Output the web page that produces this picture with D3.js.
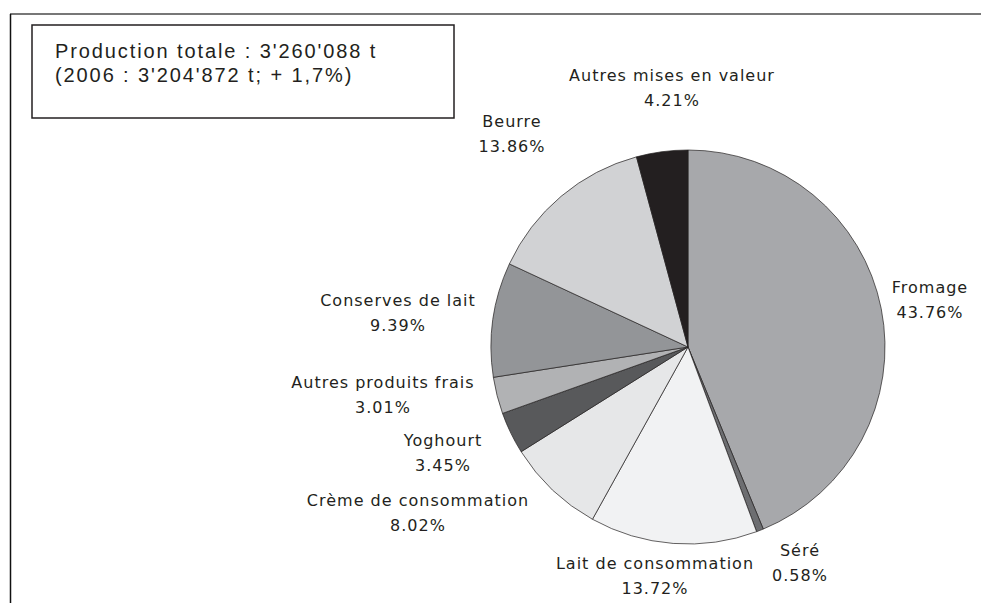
<!DOCTYPE html>
<html>

<head>
    <meta charset="UTF-8">
    <style>
        body {
            margin: 0;
            background-color: #ffffff;
        }

        .label {
            font-family: 'DejaVu Sans', sans-serif;
            font-size: 16px;
            letter-spacing: 1px;
            fill: #231f20;
            text-anchor: middle;
        }

        .title {
            font-family: 'Liberation Sans', 'Arial', sans-serif;
            font-size: 20px;
            letter-spacing: 1.9px;
            fill: #231f20;
        }
    </style>
</head>

<body>
    <svg id="chart" width="981" height="603"></svg>
    <script src="https://d3js.org/d3.v7.min.js"></script>
    <script>
        // data (clockwise from 12 o'clock)
        var categories = ["Fromage", "Séré", "Lait de consommation", "Crème de consommation", "Yoghourt",
            "Autres produits frais", "Conserves de lait", "Beurre", "Autres mises en valeur"];
        var shares = [43.76, 0.58, 13.72, 8.02, 3.45, 3.01, 9.39, 13.86, 4.21];
        var shareLabels = ["43.76%", "0.58%", "13.72%", "8.02%", "3.45%", "3.01%", "9.39%", "13.86%", "4.21%"];
        var titleLines = ["Production totale : 3'260'088 t", "(2006 : 3'204'872 t; + 1,7%)"];

        var colors = ["#a7a8ab", "#6d6e71", "#f1f2f3", "#e6e7e8", "#58595b", "#b1b2b4", "#939598", "#d1d2d4", "#231f20"];
        // label centres (x, y of first line)
        var labelPos = [[930, 287], [800, 550], [655, 563], [418, 500], [443, 440],
            [383, 382], [398, 300], [512, 121], [672, 75]];

        var width = 981;
        var height = 603;
        var cx = 688, cy = 347, radius = 197;

        var svg = d3.select("#chart").attr("width", width).attr("height", height);

        // frame (only top and left edges are visible)
        svg.append("line")
            .attr("x1", 10).attr("y1", 14).attr("x2", width).attr("y2", 14)
            .attr("stroke", "#777").attr("stroke-width", 2);
        svg.append("line")
            .attr("x1", 10.5).attr("y1", 14).attr("x2", 10.5).attr("y2", height)
            .attr("stroke", "#111").attr("stroke-width", 1.5);

        // title box
        svg.append("rect")
            .attr("x", 32).attr("y", 25).attr("width", 422).attr("height", 93)
            .attr("fill", "none").attr("stroke", "#231f20").attr("stroke-width", 1.5);

        svg.selectAll(".title")
            .data(titleLines)
            .enter()
            .append("text")
            .attr("class", "title")
            .attr("x", 55)
            .attr("y", function (d, i) { return 58 + i * 24; })
            .text(function (d) { return d; });

        // pie
        var pie = d3.pie().sort(null).value(function (d) { return d; });
        var arc = d3.arc().innerRadius(0).outerRadius(radius);

        var g = svg.append("g").attr("transform", "translate(" + cx + "," + cy + ")");

        g.selectAll("path")
            .data(pie(shares))
            .enter()
            .append("path")
            .attr("d", arc)
            .attr("fill", function (d, i) { return colors[i]; })
            .attr("stroke", "#231f20")
            .attr("stroke-width", 0.7);

        // labels
        var labels = svg.selectAll(".label")
            .data(categories)
            .enter()
            .append("text")
            .attr("class", "label")
            .attr("x", function (d, i) { return labelPos[i][0]; })
            .attr("y", function (d, i) { return labelPos[i][1]; });

        labels.append("tspan")
            .attr("x", function (d, i) { return labelPos[i][0]; })
            .attr("dy", "0.35em")
            .text(function (d) { return d; });

        labels.append("tspan")
            .attr("x", function (d, i) { return labelPos[i][0]; })
            .attr("dy", 25)
            .text(function (d, i) { return shareLabels[i]; });
    </script>
</body>

</html>
